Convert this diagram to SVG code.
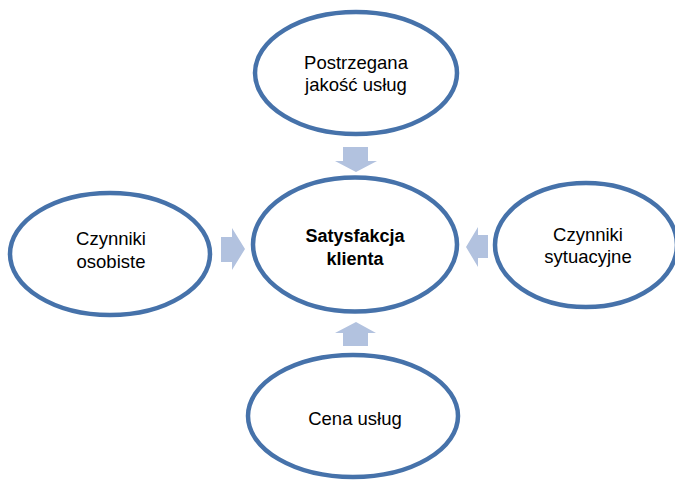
<svg xmlns="http://www.w3.org/2000/svg" width="675" height="480" viewBox="0 0 675 480">
<style>
.node ellipse{fill:#fff;stroke:#4672aa;stroke-width:4.5}
.node text{font-family:"Liberation Sans",Arial,sans-serif;font-size:18.5px;fill:#000;text-anchor:middle}
.node text.b{font-weight:bold;font-size:18px}
.arrow{fill:#b2c2df}
</style>
<rect width="675" height="480" fill="#fff"/>
<g id="connectors">
<polygon class="arrow" points="343,147 368,147 368,161 377,161 356,172 335,161 343,161"/>
<polygon class="arrow" points="343,346 368,346 368,333 376,333 356,322 335,333 343,333"/>
<polygon class="arrow" points="221,237 232,237 232,228 245,249 232,270 232,262 221,262"/>
<polygon class="arrow" points="488,235 478,235 478,227 466,247 478,267 478,258 488,258"/>
</g>
<g id="top" class="node">
<ellipse cx="356" cy="73" rx="101" ry="61"/>
<text x="356" y="69">Postrzegana</text>
<text x="356" y="91">jakość usług</text>
</g>
<g id="center" class="node">
<ellipse cx="355" cy="244.5" rx="102" ry="67"/>
<text class="b" x="355" y="242">Satysfakcja</text>
<text class="b" x="355" y="265">klienta</text>
</g>
<g id="left" class="node">
<ellipse cx="110" cy="254" rx="100" ry="61"/>
<text x="111" y="245">Czynniki</text>
<text x="111" y="268">osobiste</text>
</g>
<g id="right" class="node">
<ellipse cx="586" cy="245" rx="91" ry="62"/>
<text x="588" y="241">Czynniki</text>
<text x="588" y="263">sytuacyjne</text>
</g>
<g id="bottom" class="node">
<ellipse cx="353" cy="416" rx="105" ry="61"/>
<text x="355" y="425">Cena usług</text>
</g>
</svg>
